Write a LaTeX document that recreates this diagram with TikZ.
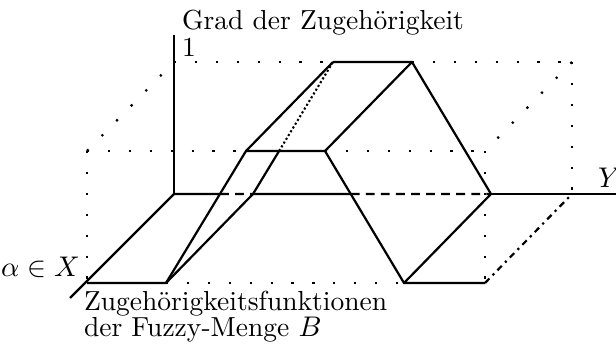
\documentclass[tikz,border=0pt]{standalone}
\begin{document}
\begin{tikzpicture}[x=0.385pt,y=-0.385pt,
  ln/.style={line width=0.85pt},
  sparse/.style={line width=0.85pt,dash pattern=on 0.85pt off 7.2pt},
  finedot/.style={line width=0.8pt,dash pattern=on 0.8pt off 0.9pt},
  axdash/.style={line width=0.85pt,dash pattern=on 3.4pt off 2.4pt},
  dashdot/.style={line width=0.85pt,dash pattern=on 2.4pt off 1.8pt on 0.85pt off 1.8pt},
  lbl/.style={inner sep=0pt,outer sep=0pt,font=\fontsize{10.6}{12.5}\selectfont}]
\useasboundingbox (0,0) rectangle (616,352);
% axes
\coordinate (O) at (174,194);
\coordinate (Ytop) at (174,35);
\coordinate (Yend) at (616,194);
\coordinate (Xend) at (70,298);
% front plane
\coordinate (F0) at (87,283);
\coordinate (F1) at (166,283);
\coordinate (F2) at (246,151);
\coordinate (F3) at (325,151);
\coordinate (F4) at (404,283);
\coordinate (F5) at (485,283);
% back plane
\coordinate (B1) at (253,194);
\coordinate (B2) at (333,62);
\coordinate (B3) at (412,62);
\coordinate (B4) at (491,194);
\coordinate (B5) at (572,194);
% helper corners
\coordinate (C0) at (174,62);
\coordinate (C1) at (572,62);
\coordinate (C2) at (485,151);
\coordinate (C3) at (87,151);
% intersections
\coordinate (P1) at (intersection of F1--F2 and O--Yend);
\coordinate (P2) at (intersection of F3--F4 and O--Yend);
\coordinate (Q) at (intersection of B1--B2 and F2--F3);

% dotted guide lines
\draw[sparse] (C0) -- (B2);
\draw[sparse] (B3) -- (C1);
\draw[sparse] (C1) -- (B5);
\draw[sparse] (C1) -- (C2);
\draw[sparse] (F3) -- (C2);
\draw[sparse] (C2) -- (F5);
\draw[sparse] (C3) -- (F2);
\draw[sparse] (C3) -- (F0);
\draw[sparse] (C3) -- (C0);
\draw[sparse] (F1) -- (F4);

% axes
\draw[ln] (Ytop) -- (O);
\draw[ln] (Xend) -- (O);
\draw[ln] (O) -- (P1);
\draw[axdash] (P1) -- (B1);
\draw[ln] (B1) -- (P2);
\draw[axdash] (P2) -- (B4);
\draw[ln] (B4) -- (Yend);

% membership functions
\draw[ln] (F0) -- (F1) -- (F2) -- (F3) -- (F4) -- (F5);
\draw[ln] (B1) -- (Q);
\draw[finedot] (Q) -- (B2);
\draw[ln] (B2) -- (B3) -- (B4);
\draw[ln] (F1) -- (B1);
\draw[ln] (F2) -- (B2);
\draw[ln] (F3) -- (B3);
\draw[ln] (F4) -- (B4);
\draw[dashdot] (F5) -- (B5);

% labels
\node[lbl,anchor=base west] (title) at (182,30) {Grad der Zugeh\"origkeit};
\node[lbl,anchor=base west] (one) at (182,57) {1};
\node[lbl,anchor=base west] (ylab) at (598,188) {$Y$};
\node[lbl,anchor=base east] (xlab) at (80,277) {$\alpha\in X$};
\node[lbl,anchor=base west] (zf1) at (84,311) {Zugeh\"origkeitsfunktionen};
\node[lbl,anchor=base west] (zf2) at (84,337) {der Fuzzy-Menge $B$};
\end{tikzpicture}
\end{document}
